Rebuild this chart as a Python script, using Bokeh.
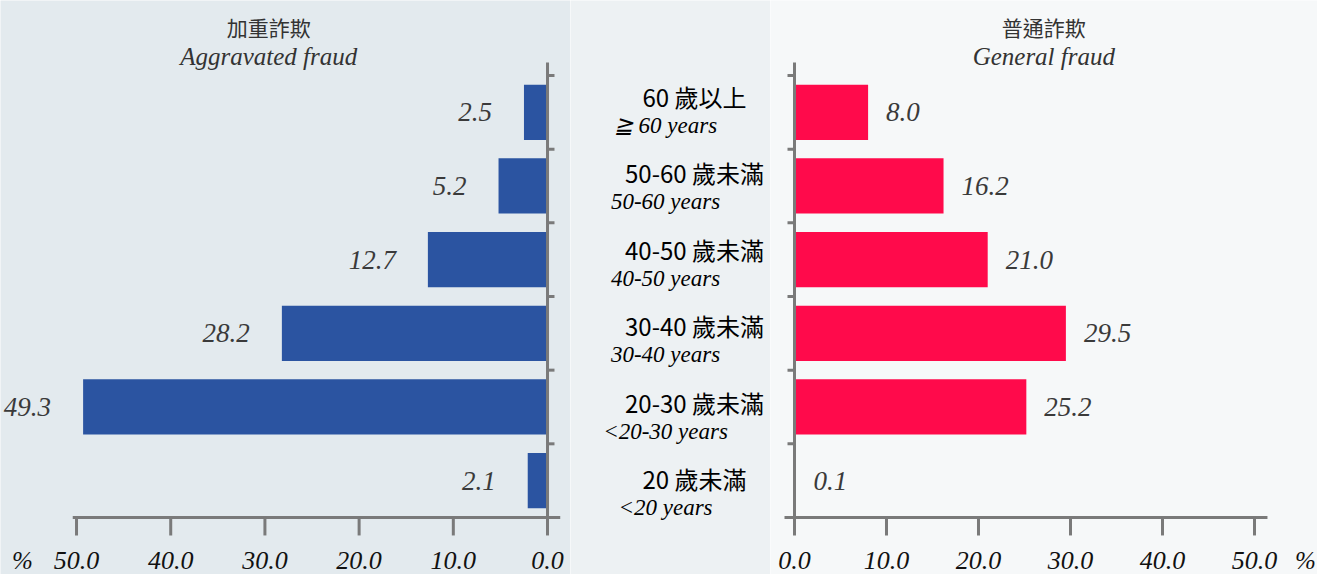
from bokeh.plotting import figure
from bokeh.layouts import row
from bokeh.models import Range1d, ColumnDataSource
from bokeh.embed import file_html
from bokeh.resources import INLINE
from bokeh.core.properties import value

# ---------------- data ----------------
groups_zh = ["60 歲以上", "50-60 歲未滿", "40-50 歲未滿", "30-40 歲未滿", "20-30 歲未滿", "20 歲未滿"]
groups_en = ["≧ 60 years", "50-60 years", "40-50 years", "30-40 years", "<20-30 years", "<20 years"]
aggravated = [2.5, 5.2, 12.7, 28.2, 49.3, 2.1]
general = [8.0, 16.2, 21.0, 29.5, 25.2, 0.1]
x_ticks = [0, 10, 20, 30, 40, 50]
x_tick_labels = ["0.0", "10.0", "20.0", "30.0", "40.0", "50.0"]
title_left_zh, title_left_en = "加重詐欺", "Aggravated fraud"
title_right_zh, title_right_en = "普通詐欺", "General fraud"

n = len(groups_zh)
ypos = [n - 0.5 - i for i in range(n)]

BLUE = "#2b54a1"
RED = "#ff0a4b"
AXIS = "#7a7a7a"
SERIF = "Liberation Serif"
CJK = "Noto Sans CJK TC"
H = 574

Y_RANGE = (-0.774, 7.018)   # category axis: 0 .. n, plus room for titles and x axis
Y_TOP = 6.176               # top of the vertical axis line
TICK_LEN_Y = 0.244          # 18 px x-tick length in y units


def base_fig(width, xr, yr, bg):
    p = figure(width=width, height=H, x_range=Range1d(*xr), y_range=Range1d(*yr),
               x_axis_type=None, y_axis_type=None, output_backend="svg",
               toolbar_location=None, min_border=0)
    p.background_fill_color = bg
    p.border_fill_color = bg
    p.outline_line_color = None
    return p


def draw_axes(p, x_span, vtick, pct_offset):
    # horizontal value axis at y = 0
    p.segment(x0=[x_span[0]], y0=[0], x1=[x_span[1]], y1=[0], line_color=AXIS, line_width=3)
    p.segment(x0=x_ticks, y0=[0] * len(x_ticks), x1=x_ticks, y1=[-TICK_LEN_Y] * len(x_ticks),
              line_color=AXIS, line_width=3)
    p.text(x=x_ticks, y=[0] * len(x_ticks), text=x_tick_labels, y_offset=43,
           text_align="center", text_baseline="middle", text_font=value(SERIF),
           text_font_style="italic", text_font_size="26px", text_color="#111111")
    p.text(x=[x_ticks[-1]], y=[0], text=["%"], x_offset=pct_offset, y_offset=43,
           text_align="center", text_baseline="middle", text_font=value(SERIF),
           text_font_style="italic", text_font_size="25px", text_color="#111111")
    # vertical category axis at x = 0, ticks at category boundaries
    p.segment(x0=[0], y0=[0], x1=[0], y1=[Y_TOP], line_color=AXIS, line_width=3)
    bounds = list(range(n + 1))
    p.segment(x0=[0] * len(bounds), y0=bounds, x1=[vtick] * len(bounds), y1=bounds,
              line_color=AXIS, line_width=3)


def draw_titles(p, x, zh, en):
    p.text(x=[x], y=[6.652], text=[zh], text_align="center", text_baseline="middle",
           text_font=value(CJK), text_font_size="21px", text_color="#333333")
    p.text(x=[x], y=[6.258], text=[en], text_align="center", text_baseline="middle",
           text_font=value(SERIF), text_font_style="italic", text_font_size="25px",
           text_color="#333333")


# ---------------- left panel (values grow leftwards) ----------------
left = base_fig(570, (58.07, -2.44), Y_RANGE, "#e3eaee")
src_l = ColumnDataSource(dict(y=ypos, v=aggravated, t=[f"{v:.1f}" for v in aggravated]))
left.hbar(y="y", left=0, right="v", height=0.75, source=src_l, fill_color=BLUE, line_color=None)
left.text(x="v", y="y", text="t", source=src_l, text_align="right", text_baseline="middle",
          x_offset=-32, text_font=value(SERIF), text_font_style="italic", text_font_size="27px",
          text_color="#3a3a3a")
draw_axes(left, (50.4, -1.35), -0.74, -54)
draw_titles(left, 29.6, title_left_zh, title_left_en)

# ---------------- center labels ----------------
center = base_fig(200, (0, 1), (-0.551, 6.943), "#edf1f3")
src_c = ColumnDataSource(dict(y=ypos, zh=groups_zh, en=groups_en, x=[0.5] * n))
center.text(x="x", y="y", text="zh", source=src_c, text_align="center", text_baseline="middle",
            x_offset=24, y_offset=-15, text_font=value(CJK), text_font_size="24px",
            text_color="#000000")
center.text(x="x", y="y", text="en", source=src_c, text_align="center", text_baseline="middle",
            x_offset=-5, y_offset=14, text_font=value(SERIF), text_font_style="italic",
            text_font_size="23px", text_color="#000000")

# ---------------- right panel ----------------
right = base_fig(547, (-2.609, 56.85), Y_RANGE, "#f6f8f9")
src_r = ColumnDataSource(dict(y=ypos, v=general, t=[f"{v:.1f}" for v in general]))
right.hbar(y="y", left=0, right="v", height=0.75, source=src_r, fill_color=RED, line_color=None)
right.text(x="v", y="y", text="t", source=src_r, text_align="left", text_baseline="middle",
           x_offset=18, text_font=value(SERIF), text_font_style="italic", text_font_size="27px",
           text_color="#3a3a3a")
draw_axes(right, (-1.087, 51.41), -0.76, 51)
draw_titles(right, 27.1, title_right_zh, title_right_en)

layout = row(left, center, right, spacing=0)
open("out.html", "w").write(file_html(layout, INLINE))
